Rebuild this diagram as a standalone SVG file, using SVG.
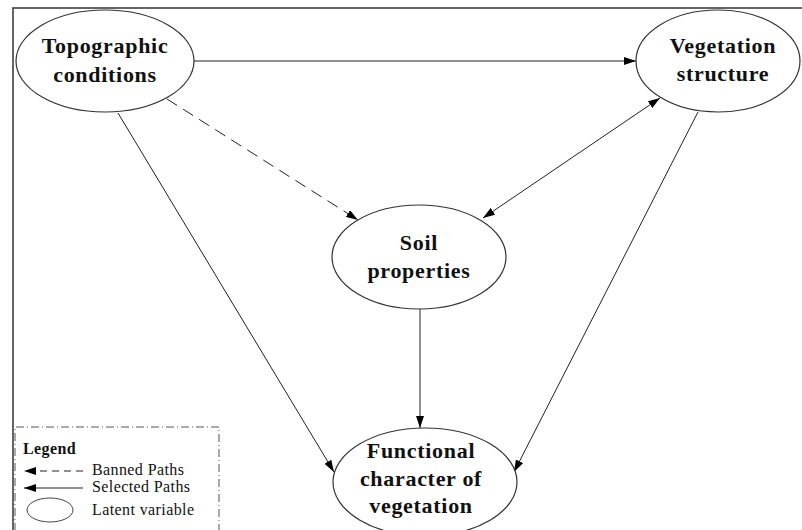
<svg xmlns="http://www.w3.org/2000/svg" width="802" height="530" viewBox="0 0 802 530">
<defs>
<marker id="ah" viewBox="0 0 12 8" refX="12" refY="4" markerWidth="12" markerHeight="8" markerUnits="userSpaceOnUse" orient="auto-start-reverse">
<path d="M0,0 L12,4 L0,8 z" fill="#000"/>
</marker>
<style>
.node ellipse{fill:#fff;stroke:#333;stroke-width:1.2}
.lbl{font-family:"Liberation Serif","Times New Roman",serif;font-weight:bold;font-size:22px;fill:#111;text-anchor:middle;letter-spacing:0.7px}
.edge{stroke:#222;stroke-width:1;fill:none}
.leg{font-family:"Liberation Serif","Times New Roman",serif;font-size:16px;fill:#111;letter-spacing:0.4px}
</style>
</defs>
<rect width="802" height="530" fill="#fff"/>
<path d="M13,531 L13,8 L802,8" fill="none" stroke="#333" stroke-width="1.5"/>
<g id="connectors">
<line class="edge" x1="193" y1="61" x2="636" y2="61" marker-end="url(#ah)"/>
<line class="edge" x1="167" y1="99" x2="358" y2="220" stroke-dasharray="12,7" marker-end="url(#ah)"/>
<line class="edge" x1="483" y1="218" x2="660" y2="98" marker-start="url(#ah)" marker-end="url(#ah)"/>
<line class="edge" x1="118" y1="113" x2="334" y2="472" marker-end="url(#ah)"/>
<line class="edge" x1="698" y1="112" x2="514" y2="472" marker-end="url(#ah)"/>
<line class="edge" x1="420" y1="309" x2="420" y2="428" marker-end="url(#ah)"/>
</g>
<g id="topographic" class="node">
<ellipse cx="105" cy="61" rx="89" ry="51"/>
<text class="lbl" x="105" y="53">Topographic</text>
<text class="lbl" x="105" y="82">conditions</text>
</g>
<g id="vegetation" class="node">
<ellipse cx="718" cy="61" rx="82" ry="51"/>
<text class="lbl" x="723" y="53">Vegetation</text>
<text class="lbl" x="723" y="81">structure</text>
</g>
<g id="soil" class="node">
<ellipse cx="419" cy="257" rx="87" ry="52"/>
<text class="lbl" x="419" y="250">Soil</text>
<text class="lbl" x="419" y="278">properties</text>
</g>
<g id="functional" class="node">
<ellipse cx="425" cy="482" rx="92" ry="54"/>
<text class="lbl" x="421" y="458">Functional</text>
<text class="lbl" x="421" y="486">character of</text>
<text class="lbl" x="421" y="513">vegetation</text>
</g>
<g id="legend">
<path d="M15,531 L15,427 L219,427 L219,531" fill="none" stroke="#555" stroke-width="1" stroke-dasharray="8,3,1,3"/>
<text x="23" y="454" class="leg" font-weight="bold">Legend</text>
<line class="edge" x1="83" y1="471" x2="24" y2="471" stroke-dasharray="7,5" marker-end="url(#ah)"/>
<text x="92" y="475" class="leg">Banned Paths</text>
<line class="edge" x1="83" y1="488" x2="24" y2="488" marker-end="url(#ah)"/>
<text x="92" y="492" class="leg">Selected Paths</text>
<ellipse cx="50" cy="510" rx="23" ry="12" fill="#fff" stroke="#444" stroke-width="1"/>
<text x="92" y="515" class="leg">Latent variable</text>
</g>
</svg>
